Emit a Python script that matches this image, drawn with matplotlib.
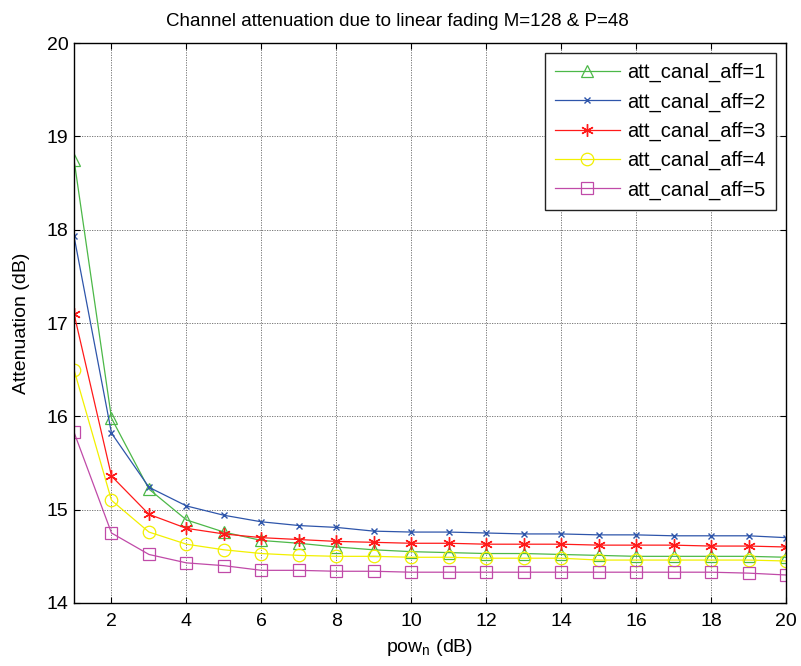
import matplotlib
matplotlib.use("Agg")
import matplotlib.pyplot as plt

plt.rcParams['font.family'] = ['Liberation Sans', 'DejaVu Sans']

pow_n = list(range(1, 21))

att1 = [18.75, 15.98, 15.22, 14.89, 14.76, 14.67, 14.64, 14.60, 14.57, 14.55,
        14.54, 14.53, 14.53, 14.52, 14.51, 14.50, 14.50, 14.50, 14.50, 14.49]
att2 = [17.93, 15.82, 15.24, 15.04, 14.94, 14.87, 14.83, 14.81, 14.77, 14.76,
        14.76, 14.75, 14.74, 14.74, 14.73, 14.73, 14.72, 14.72, 14.72, 14.70]
att3 = [17.10, 15.36, 14.95, 14.80, 14.74, 14.70, 14.68, 14.66, 14.65, 14.64,
        14.64, 14.63, 14.63, 14.63, 14.62, 14.62, 14.62, 14.61, 14.61, 14.60]
att4 = [16.50, 15.10, 14.76, 14.63, 14.57, 14.53, 14.51, 14.50, 14.50, 14.49,
        14.49, 14.48, 14.48, 14.48, 14.46, 14.46, 14.46, 14.46, 14.46, 14.45]
att5 = [15.83, 14.75, 14.52, 14.43, 14.40, 14.35, 14.35, 14.34, 14.34, 14.33,
        14.33, 14.33, 14.33, 14.33, 14.33, 14.33, 14.33, 14.33, 14.32, 14.30]

labels = ['att_canal_aff=1', 'att_canal_aff=2', 'att_canal_aff=3',
          'att_canal_aff=4', 'att_canal_aff=5']

fig = plt.figure(figsize=(8.01, 6.66), dpi=100)
ax = fig.add_axes([0.0924, 0.0946, 0.889, 0.8408])

ax.plot(pow_n, att1, color='#4cb848', lw=0.9, marker='^', ms=9, mfc='none', mew=0.9, label=labels[0])
ax.plot(pow_n, att2, color='#2e55aa', lw=0.9, marker='x', ms=5, mew=1.0, label=labels[1])
ax.plot(pow_n, att3, color='#ff1a1a', lw=0.9, marker=(6, 2, 0), ms=9, mew=1.0, label=labels[2])
ax.plot(pow_n, att4, color='#f2f000', lw=0.9, marker='o', ms=9, mfc='none', mew=0.9, label=labels[3])
ax.plot(pow_n, att5, color='#c04aa8', lw=0.9, marker='s', ms=9, mfc='none', mew=0.9, label=labels[4])

ax.set_xlim(1, 20)
ax.set_ylim(14, 20)
ax.set_xticks(range(2, 21, 2))
ax.set_yticks(range(14, 21))
ax.grid(True, color='#666666', linestyle=(0, (1.5, 1.5)), linewidth=0.6)
ax.tick_params(direction='in', top=True, right=True, labelsize=14, length=4, width=0.8)
ax.tick_params(axis='x', pad=7)
ax.tick_params(axis='y', pad=4)
for s in ax.spines.values():
    s.set_linewidth(1.0)

ax.set_title('Channel attenuation due to linear fading M=128 & P=48', fontsize=13.5,
             pad=12, x=0.454)
ax.set_xlabel('pow$_\\mathregular{n}$ (dB)', fontsize=14, labelpad=5)
ax.set_ylabel('Attenuation (dB)', fontsize=14, labelpad=12)

leg = ax.legend(loc='upper right', fontsize=14.5, handlelength=3.2, fancybox=False,
                edgecolor='#222222', framealpha=1, borderaxespad=0.5, labelspacing=0.5,
                borderpad=0.5, handletextpad=0.4)
leg.get_frame().set_linewidth(1.0)

fig.savefig('out.png', dpi=100)
